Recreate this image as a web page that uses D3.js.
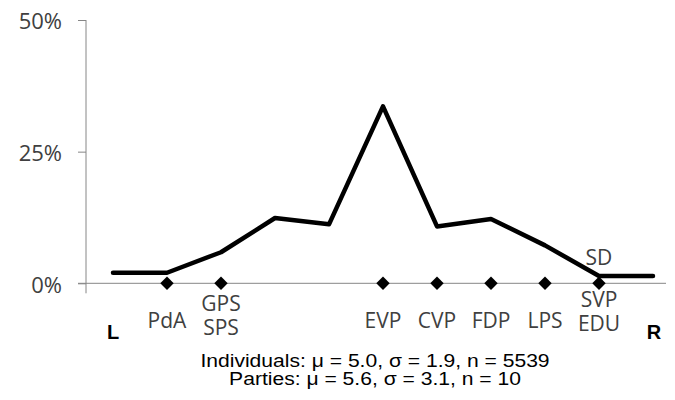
<!DOCTYPE html>
<html>
<head>
<meta charset="utf-8">
<script src="https://cdn.jsdelivr.net/npm/d3@7"></script>
<style>
  html, body { margin: 0; padding: 0; background: #fff; }
  svg { display: block; }
</style>
</head>
<body>
<svg id="chart" width="675" height="400"></svg>
<script>
// ---- data ----
const scalePositions = [0, 1, 2, 3, 4, 5, 6, 7, 8, 9, 10];
const individualShares = [0.020, 0.020, 0.059, 0.124, 0.112, 0.336, 0.108, 0.122, 0.072, 0.014, 0.014];
const partyPositions = [1, 2, 5, 6, 7, 8, 9];
const partyLabelsBelow = [["PdA"], ["GPS", "SPS"], ["EVP"], ["CVP"], ["FDP"], ["LPS"], ["SVP", "EDU"]];
const partyLabelsAbove = [{ pos: 9, label: "SD" }];
const yTicks = [0, 0.25, 0.5];
const endLabels = ["L", "R"];
const summaryLines = [
  "Individuals: \u03bc = 5.0, \u03c3 = 1.9, n = 5539",
  "Parties: \u03bc = 5.6, \u03c3 = 3.1, n = 10"
];

// ---- layout ----
const svg = d3.select("#chart");
const x = d3.scaleLinear().domain([-0.5, 10.5]).range([86, 680]);
const y = d3.scaleLinear().domain([0, 0.5]).range([283.3, 20]);
const axisColor = "#868686";
const textColor = "#404040";
const labelFont = "'Open Sans', sans-serif";

// y axis
const yAxis = d3.axisLeft(y).tickValues(yTicks).tickFormat(d3.format(".0%")).tickSizeOuter(0).tickSize(8).tickPadding(16);
const gy = svg.append("g").attr("transform", "translate(86,0)").call(yAxis);
gy.select(".domain").remove();
gy.selectAll(".tick line").attr("stroke", axisColor).attr("stroke-width", 1);
gy.selectAll(".tick text")
  .attr("font-family", labelFont).attr("font-size", 22).attr("fill", textColor)
  .attr("dy", "0.4em");
svg.append("line")
  .attr("x1", 86).attr("x2", 86)
  .attr("y1", y(0.5)).attr("y2", y(0) + 10)
  .attr("stroke", axisColor).attr("stroke-width", 1);

// x axis line
svg.append("line")
  .attr("x1", x(-0.5) - 8).attr("x2", 666)
  .attr("y1", y(0)).attr("y2", y(0))
  .attr("stroke", axisColor).attr("stroke-width", 1);

// line
const line = d3.line().x((d, i) => x(scalePositions[i])).y(d => y(d));
svg.append("path")
  .datum(individualShares)
  .attr("d", line)
  .attr("fill", "none")
  .attr("stroke", "#000")
  .attr("stroke-width", 4.5)
  .attr("stroke-linejoin", "round")
  .attr("stroke-linecap", "round");

// party diamonds
svg.selectAll(".diamond")
  .data(partyPositions)
  .join("path")
  .attr("class", "diamond")
  .attr("d", d3.symbol().type(d3.symbolSquare).size(90))
  .attr("transform", d => `translate(${x(d)},${y(0)}) rotate(45)`)
  .attr("fill", "#000");

// clip for labels
svg.append("clipPath").attr("id", "clipLabels")
  .append("rect").attr("x", 0).attr("y", 0).attr("width", 675).attr("height", 337);

const labelsG = svg.append("g").attr("clip-path", "url(#clipLabels)");
partyPositions.forEach((p, i) => {
  const lines = partyLabelsBelow[i];
  const firstBaseline = lines.length === 1 ? 328 : (p === 9 ? 306.5 : 311);
  const step = p === 9 ? 24.5 : 23.5;
  lines.forEach((t, j) => {
    labelsG.append("text")
      .attr("x", x(p))
      .attr("y", firstBaseline + j * step)
      .attr("text-anchor", "middle")
      .attr("font-family", labelFont)
      .attr("font-size", 21)
      .attr("fill", textColor)
      .text(t);
  });
});
partyLabelsAbove.forEach(d => {
  svg.append("text")
    .attr("x", x(d.pos))
    .attr("y", 265)
    .attr("text-anchor", "middle")
    .attr("font-family", labelFont)
    .attr("font-size", 21)
    .attr("fill", textColor)
    .text(d.label);
});

// L / R
svg.append("text").attr("x", x(0)).attr("y", 339).attr("text-anchor", "middle")
  .attr("font-family", "'Liberation Sans', Arial, sans-serif").attr("font-weight", "bold")
  .attr("font-size", 20).attr("fill", "#000").text(endLabels[0]);
svg.append("text").attr("x", 654).attr("y", 339).attr("text-anchor", "middle")
  .attr("font-family", "'Liberation Sans', Arial, sans-serif").attr("font-weight", "bold")
  .attr("font-size", 20).attr("fill", "#000").text(endLabels[1]);

// summary
summaryLines.forEach((t, i) => {
  svg.append("text")
    .attr("transform", `translate(375,${366.5 + i * 18.5}) scale(1.14,1)`)
    .attr("text-anchor", "middle")
    .attr("font-family", "'Liberation Sans', Arial, sans-serif")
    .attr("font-size", 18.5)
    .attr("fill", "#000")
    .text(t);
});
</script>
</body>
</html>
